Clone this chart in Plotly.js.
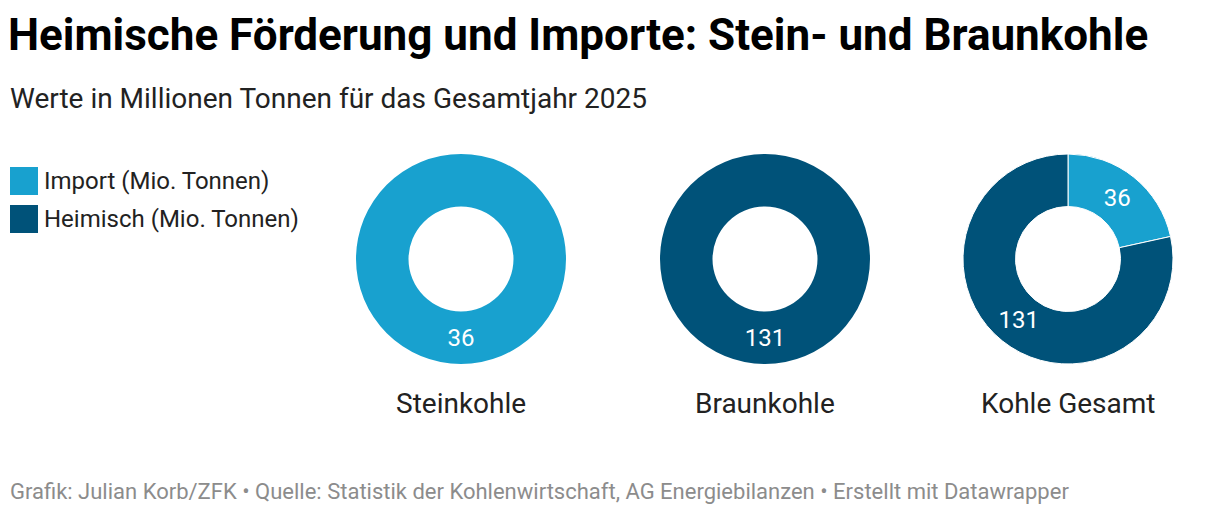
<!DOCTYPE html>
<html><head><meta charset="utf-8">
<script src="https://cdn.plot.ly/plotly-3.0.1.min.js"></script>
<style>html,body{margin:0;padding:0;background:#fff}#c{width:1220px;height:514px}</style>
</head><body><div id="c"></div>
<script>
const categories = ["Steinkohle", "Braunkohle", "Kohle Gesamt"];
const seriesNames = ["Import (Mio. Tonnen)", "Heimisch (Mio. Tonnen)"];
const importValues = [36, 0, 36];
const heimischValues = [0, 131, 131];
const seriesColors = ["#18a1cf", "#005279"];

const W = 1220, H = 514;
const centersX = [461, 765, 1068];
const centerY = 259, R = 105;

const traces = categories.map((cat, i) => {
  const vals = [importValues[i], heimischValues[i]];
  const single = vals.some(v => v === 0);
  return {
    type: "pie",
    labels: seriesNames,
    values: vals,
    text: vals.map(v => v > 0 ? String(v) : ""),
    textinfo: "text",
    textposition: "inside",
    insidetextorientation: "horizontal",
    textfont: {family: "Roboto", size: 24, color: "#ffffff"},
    hole: 0.5,
    sort: false,
    direction: "clockwise",
    rotation: 0,
    marker: {colors: seriesColors, line: {color: "#ffffff", width: single ? 0 : 1}},
    showlegend: false,
    hoverinfo: "label+value",
    domain: {
      x: [(centersX[i] - R) / W, (centersX[i] + R) / W],
      y: [1 - (centerY + R) / H, 1 - (centerY - R) / H]
    }
  };
});

const annotations = categories.map((cat, i) => ({
  text: cat, xref: "paper", yref: "paper",
  x: centersX[i] / W, y: 1 - 403 / H, xanchor: "center", yanchor: "middle",
  showarrow: false, font: {family: "Roboto", size: 28, color: "#222222"}
}));
const shapes = [];
seriesNames.forEach((name, j) => {
  const cy = 181 + j * 38;
  shapes.push({type: "rect", xref: "paper", yref: "paper",
    x0: 10 / W, x1: 38 / W, y0: 1 - (cy + 14) / H, y1: 1 - (cy - 14) / H,
    fillcolor: seriesColors[j], line: {width: 0}});
  annotations.push({text: name, xref: "paper", yref: "paper",
    x: 42 / W, y: 1 - cy / H, xanchor: "left", yanchor: "middle",
    showarrow: false, font: {family: "Roboto", size: 24, color: "#222222"}});
});
annotations.push({text: "Werte in Millionen Tonnen für das Gesamtjahr 2025", xref: "paper", yref: "paper",
  x: 8 / W, y: 1 - 98 / H, xanchor: "left", yanchor: "middle", showarrow: false,
  font: {family: "Roboto", size: 28, color: "#222222"}});
annotations.push({text: "Grafik: Julian Korb/ZFK • Quelle: Statistik der Kohlenwirtschaft, AG Energiebilanzen • Erstellt mit Datawrapper",
  xref: "paper", yref: "paper", x: 8 / W, y: 1 - 491 / H, xanchor: "left", yanchor: "middle", showarrow: false,
  font: {family: "Roboto", size: 22, color: "#8c8c8c"}});

const layout = {
  width: W, height: H,
  margin: {l: 0, r: 0, t: 0, b: 0},
  paper_bgcolor: "#ffffff",
  title: {text: "<b>Heimische Förderung und Importe: Stein- und Braunkohle</b>",
    xref: "paper", yref: "paper", x: 8 / W, y: 1 - 35 / H, xanchor: "left", yanchor: "middle",
    font: {family: "Roboto", size: 44, color: "#000000"}},
  annotations: annotations,
  shapes: shapes
};
Plotly.newPlot("c", traces, layout, {displayModeBar: false, staticPlot: true});
</script></body></html>
